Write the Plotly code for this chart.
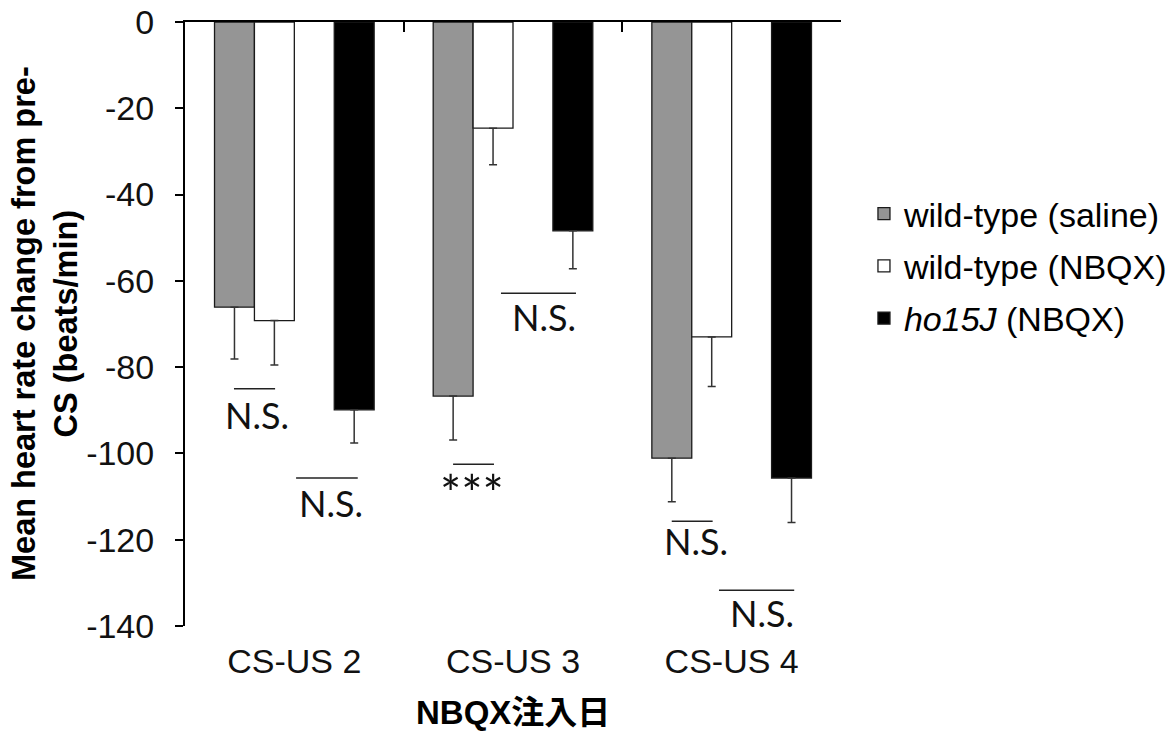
import plotly.graph_objects as go

categories = ["CS-US 2", "CS-US 3", "CS-US 4"]
series_names = ["wild-type (saline)", "wild-type (NBQX)", "<i>ho15J</i> (NBQX)"]
wt_saline = [-66.1, -86.7, -101.1]
wt_saline_err = [12.0, 10.2, 10.1]
wt_nbqx = [-69.2, -24.6, -73.0]
wt_nbqx_err = [10.3, 8.5, 11.5]
ho15j_nbqx = [-89.9, -48.4, -105.7]
ho15j_nbqx_err = [7.7, 8.8, 10.3]
y_ticks = [0, -20, -40, -60, -80, -100, -120, -140]
y_tick_text = ["0", "-20", "-40", "-60", "-80", "-100", "-120", "-140"]

# significance marks
sig_labels = ["N.S.", "N.S.", "***", "N.S.", "N.S.", "N.S."]
sig_cat = [0, 0, 1, 1, 2, 2]
sig_x0 = [-0.276, 0.008, -0.274, -0.055, -0.274, -0.058]
sig_x1 = [-0.088, 0.290, -0.087, 0.288, -0.087, 0.286]
sig_line_y = [-85.0, -105.7, -102.5, -62.9, -115.7, -131.7]
sig_text_dx = [-0.171, 0.168, -0.1875, 0.140, -0.163, 0.139]
sig_text_y = [-91.0, -111.6, -109.1, -68.3, -120.4, -137.1]
sig_text_size = [36, 36, 50, 36, 36, 36]

colors = ["#959595", "#ffffff", "#000000"]
values = [wt_saline, wt_nbqx, ho15j_nbqx]
errs = [wt_saline_err, wt_nbqx_err, ho15j_nbqx_err]

fig = go.Figure()
for i in range(3):
    if i == 2:
        # empty slot in the group (as in the original chart)
        fig.add_trace(go.Bar(x=categories, y=[0, 0, 0], showlegend=False,
                             marker=dict(color="rgba(0,0,0,0)", line=dict(width=0)),
                             hoverinfo="skip"))
    fig.add_trace(go.Bar(
        x=categories, y=values[i], name=series_names[i],
        legendgroup=str(i),
        marker=dict(color=colors[i], line=dict(color="#1a1a1a", width=1.3)),
        error_y=dict(type="data", symmetric=False, array=[0, 0, 0],
                     arrayminus=errs[i], color="#333333", thickness=1.5, width=4),
    ))

# dummy trace for the top axis
fig.add_trace(go.Scatter(x=categories, y=[None, None, None], xaxis="x2",
                         showlegend=False, hoverinfo="skip", mode="markers"))

font_main = "Liberation Sans, Arial, sans-serif"
annots = []
shapes = []
for k in range(len(sig_labels)):
    c = sig_cat[k]
    shapes.append(dict(type="line", xref="x", yref="y",
                       x0=c + sig_x0[k], x1=c + sig_x1[k],
                       y0=sig_line_y[k], y1=sig_line_y[k],
                       line=dict(color="#222222", width=1.5)))
    annots.append(dict(x=c + sig_text_dx[k], y=sig_text_y[k], xref="x", yref="y",
                       text=sig_labels[k], showarrow=False,
                       xanchor="center", yanchor="middle",
                       font=dict(family="Lato, Open Sans, sans-serif",
                                 size=sig_text_size[k], color="#111111")))

annots.append(dict(x=-140 / 656, y=0.5, xref="paper", yref="paper",
                   text="<b>Mean heart rate change from pre-<br>CS (beats/min)</b>",
                   textangle=-90, showarrow=False, xanchor="center", yanchor="middle",
                   font=dict(family=font_main, size=32.5, color="#000000")))
annots.append(dict(x=0.5, y=-86 / 604, xref="paper", yref="paper",
                   text="<b>NBQX注入日</b>", showarrow=False,
                   xanchor="center", yanchor="middle",
                   font=dict(family="Liberation Sans, Noto Sans CJK JP, sans-serif",
                             size=33, color="#000000")))

fig.update_layout(
    width=1173, height=731,
    margin=dict(l=185, r=332, t=22, b=105, autoexpand=False),
    paper_bgcolor="white", plot_bgcolor="white",
    barmode="group", bargap=0.27, bargroupgap=0,
    font=dict(family=font_main, size=34, color="#000000"),
    xaxis=dict(type="category", categoryorder="array", categoryarray=categories,
               range=[-0.5, 2.5], showline=False, ticks="", showgrid=False,
               zeroline=False, tickfont=dict(size=34, color="#111111"),
               ticklabelstandoff=12, automargin=False),
    xaxis2=dict(type="category", categoryorder="array", categoryarray=categories,
                overlaying="x", side="top", anchor="y", range=[-0.5, 2.5],
                showline=True, linecolor="#000000", linewidth=2,
                ticks="inside", ticklen=10, tickwidth=2, tickcolor="#000000",
                tickson="boundaries", showticklabels=False, showgrid=False,
                automargin=False),
    yaxis=dict(range=[-140, 0], tickvals=y_ticks, ticktext=y_tick_text,
               ticks="outside", ticklen=8,
               tickwidth=2, tickcolor="#000000", showline=True, linecolor="#000000",
               linewidth=2, showgrid=False, zeroline=False, automargin=False,
               tickfont=dict(size=34, color="#111111"), ticklabelstandoff=14),
    legend=dict(x=1.035, y=0.73, xanchor="left", yanchor="top",
                traceorder="grouped", tracegroupgap=5,
                font=dict(size=34, color="#000000"), bgcolor="rgba(0,0,0,0)"),
    shapes=shapes, annotations=annots,
    showlegend=True,
)

fig.write_html("out.html")
